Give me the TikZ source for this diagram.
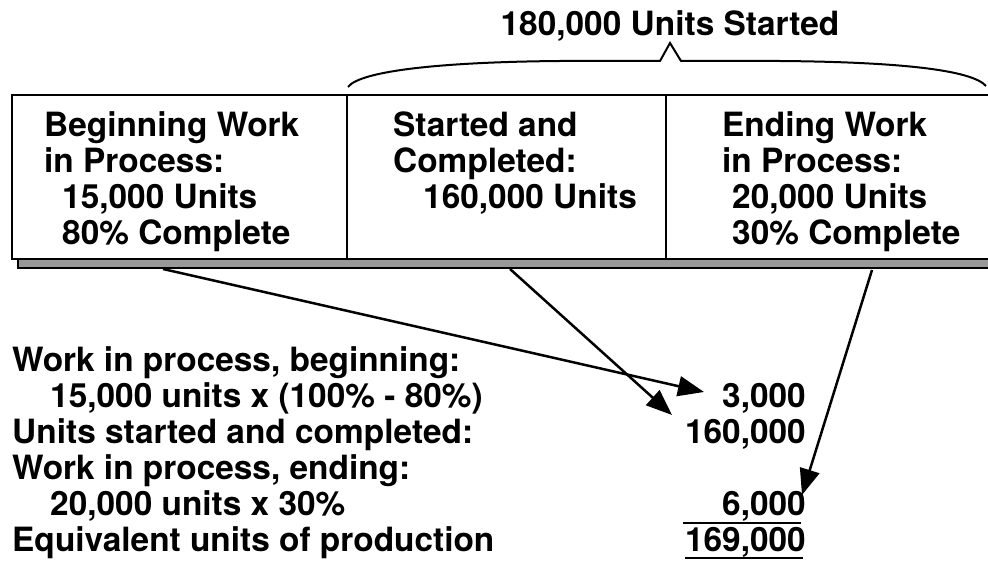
\documentclass[tikz,border=0pt]{standalone}
\usepackage{fontspec}
\setmainfont{TeX Gyre Heros}
\usetikzlibrary{arrows.meta}
\tikzset{
  txt/.style={anchor=base west, inner sep=0pt, font=\bfseries\fontsize{33.4}{36}\selectfont},
  num/.style={anchor=base east, inner sep=0pt, font=\bfseries\fontsize{33.4}{36}\selectfont},
  frame/.style={draw=black, line width=2.5pt},
  conn/.style={line width=2.5pt, -{Triangle[length=26pt,width=20pt]}},
  rule/.style={line width=2.5pt}
}
\begin{document}
\begin{tikzpicture}[x=1pt,y=-1pt]
\clip (0,0) rectangle (988,561);
\fill[white] (0,0) rectangle (988,561);
% shadow strip
\draw[line width=2.2pt, fill=black!40] (18,259) rectangle (1000,268);
% main box
\draw[frame, fill=white] (12,95) rectangle (1000,259);
\draw[frame] (347,95) -- (347,259);
\draw[frame] (666,95) -- (666,259);
% brace
\draw[line width=2pt] (348,87) .. controls (360,71) and (440,62) .. (560,61) -- (660,61) -- (670,43) -- (681,61) -- (780,61) .. controls (900,62) and (972,70) .. (986,86);
\node[txt, anchor=base] (title) at (670,36) {180,000 Units Started};
% column texts
\node[txt] (c1a) at (44,137) {Beginning Work};
\node[txt] (c1b) at (44,173) {in Process:};
\node[txt] (c1c) at (62,209) {15,000 Units};
\node[txt] (c1d) at (62,245) {80\% Complete};
\node[txt] (c2a) at (393,137) {Started and};
\node[txt] (c2b) at (393,173) {Completed:};
\node[txt] (c2c) at (423,209) {160,000 Units};
\node[txt] (c3a) at (722,137) {Ending Work};
\node[txt] (c3b) at (722,173) {in Process:};
\node[txt] (c3c) at (732,209) {20,000 Units};
\node[txt] (c3d) at (732,245) {30\% Complete};
% lower texts
\node[txt] (l1) at (12,371) {Work in process, beginning:};
\node[txt] (l2) at (50,407) {15,000 units x (100\% - 80\%)};
\node[txt] (l3) at (12,443) {Units started and completed:};
\node[txt] (l4) at (12,479) {Work in process, ending:};
\node[txt] (l5) at (50,515) {20,000 units x 30\%};
\node[txt] (l6) at (12,551) {Equivalent units of production};
\node[num] (n1) at (806,407) {3,000};
\node[num] (n2) at (806,443) {160,000};
\node[num] (n3) at (806,515) {6,000};
\node[num] (n4) at (806,551) {169,000};
\draw[rule] (683,523) -- (801,523);
\draw[rule] (685,558) -- (803,558);
% arrows
\coordinate (s1) at (163,269);
\coordinate (s2) at (510,269);
\coordinate (s3) at (872,270);
\coordinate (e1) at (704,392);
\coordinate (e2) at (672,415);
\coordinate (e3) at (802,495);
\draw[conn] (s1) -- (e1);
\draw[conn] (s2) -- (e2);
\draw[conn] (s3) -- (e3);
\end{tikzpicture}
\end{document}
